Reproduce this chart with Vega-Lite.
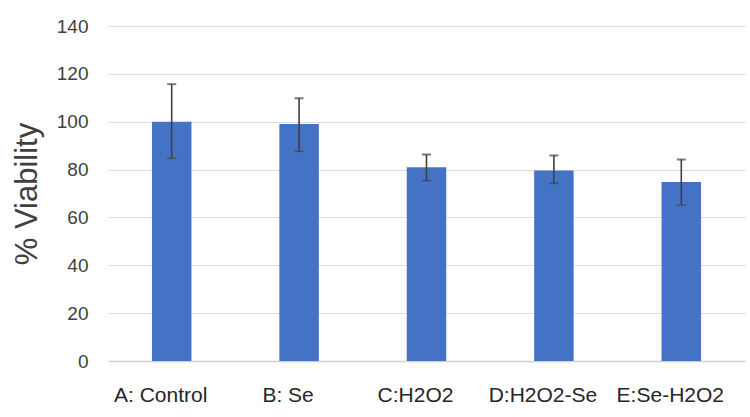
{
  "$schema": "https://vega.github.io/schema/vega-lite/v6.json",
  "autosize": "none",
  "width": 637,
  "height": 335,
  "padding": {"left": 108, "top": 26, "right": 5, "bottom": 56},
  "background": "white",
  "config": {"view": {"stroke": null}, "font": "Liberation Sans"},
  "data": {"values": [
    {"group": "A: Control", "mean": 100, "lo": 84.7, "hi": 115.7},
    {"group": "B: Se", "mean": 99, "lo": 87.6, "hi": 109.8},
    {"group": "C:H2O2", "mean": 81, "lo": 75.4, "hi": 86.3},
    {"group": "D:H2O2-Se", "mean": 79.6, "lo": 74.2, "hi": 85.9},
    {"group": "E:Se-H2O2", "mean": 74.8, "lo": 65.2, "hi": 84.2}
  ]},
  "encoding": {
    "x": {"field": "group", "type": "nominal", "sort": null,
      "scale": {"paddingInner": 0.69, "paddingOuter": 0.345},
      "axis": {"title": null, "labelAngle": 0, "labelFontSize": 21, "labelColor": "#262626",
        "labelPadding": 23, "labelOffset": -11, "ticks": false, "domainColor": "#d0d0d0", "domainWidth": 1.5, "grid": false}}
  },
  "layer": [
    {"mark": {"type": "bar", "color": "#4472C4"},
      "encoding": {"y": {"field": "mean", "type": "quantitative",
        "scale": {"domain": [0, 140]},
        "axis": {"values": [0, 20, 40, 60, 80, 100, 120, 140], "title": "% Viability", "titleFontSize": 31, "titleFontWeight": "normal",
          "titleColor": "#404040", "titlePadding": 13, "labelFontSize": 19, "labelColor": "#404040", "labelPadding": 20,
          "ticks": false, "domain": false, "gridColor": "#dcdcdc", "gridWidth": 1}}}},
    {"mark": {"type": "rule", "color": "#404040", "strokeWidth": 1.6},
      "encoding": {"y": {"field": "lo", "type": "quantitative"}, "y2": {"field": "hi"}}},
    {"mark": {"type": "tick", "color": "#404040", "orient": "horizontal", "size": 9, "thickness": 2},
      "encoding": {"y": {"field": "hi", "type": "quantitative"}}},
    {"mark": {"type": "tick", "color": "#404040", "orient": "horizontal", "size": 9, "thickness": 1.5},
      "encoding": {"y": {"field": "lo", "type": "quantitative"}}}
  ]
}
